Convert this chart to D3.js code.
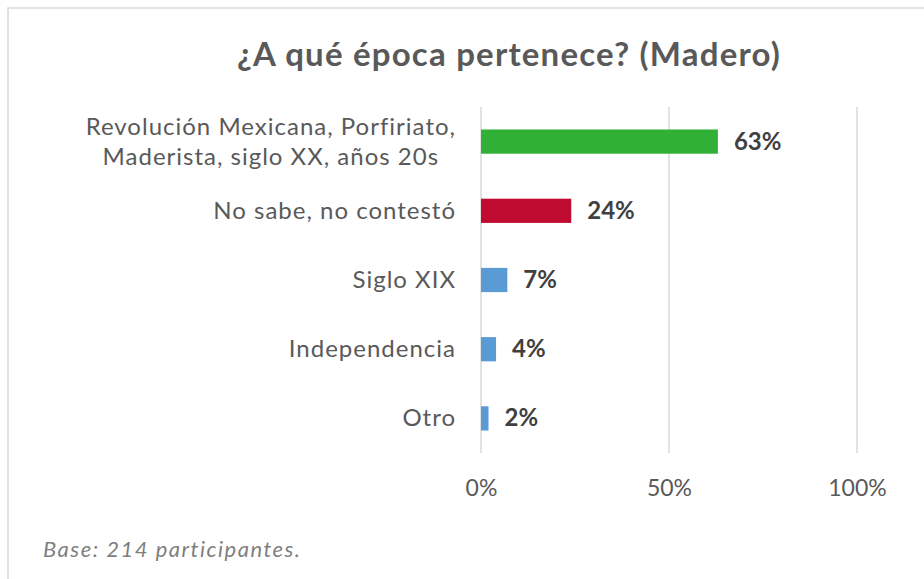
<!DOCTYPE html>
<html>
<head>
<meta charset="utf-8">
<script src="https://cdn.jsdelivr.net/npm/d3@7"></script>
<style>
  body { margin: 0; background: #fff; }
  svg { display: block; font-family: Lato, "Open Sans", sans-serif; }
</style>
</head>
<body>
<svg id="chart" width="924" height="579"></svg>
<script>
var categories = [
  ["Revolución Mexicana, Porfiriato,", "Maderista, siglo XX, años 20s"],
  ["No sabe, no contestó"],
  ["Siglo XIX"],
  ["Independencia"],
  ["Otro"]
];
var values = [63, 24, 7, 4, 2];
var barColors = ["#31b036", "#c00b31", "#5b9bd5", "#5b9bd5", "#5b9bd5"];
var tickValues = [0, 50, 100];
var title = "¿A qué época pertenece? (Madero)";
var footnote = "Base: 214 participantes.";

var svg = d3.select("#chart"),
  width = +svg.attr("width"),
  height = +svg.attr("height");

// chart frame
svg.append("rect")
  .attr("x", 8).attr("y", 8)
  .attr("width", width + 10).attr("height", height + 10)
  .style("fill", "none")
  .style("stroke", "#d9d9d9")
  .style("stroke-width", 1.5);

var x = d3.scaleLinear().domain([0, 100]).range([481, 857]);
var y = d3.scaleBand()
  .domain(d3.range(values.length))
  .range([107, 453])
  .paddingInner(0.65)
  .paddingOuter(0.325);

// gridlines
svg.append("g")
  .selectAll("line")
  .data(tickValues)
  .enter().append("line")
  .attr("x1", d => x(d)).attr("x2", d => x(d))
  .attr("y1", 107).attr("y2", 453)
  .style("stroke", "#d9d9d9")
  .style("stroke-width", 1.5);

// x axis labels
var xAxis = d3.axisBottom(x)
  .tickValues(tickValues)
  .tickSize(0)
  .tickPadding(0)
  .tickFormat(d => d + "%");

svg.append("g")
  .attr("transform", "translate(0,496)")
  .call(xAxis)
  .call(g => g.select(".domain").remove())
  .selectAll("text")
  .attr("y", 0).attr("dy", 0)
  .style("font-family", "Lato, sans-serif")
  .style("font-size", "23px")
  .style("fill", "#595959");

// bars
svg.append("g")
  .selectAll("rect")
  .data(values)
  .enter().append("rect")
  .attr("x", x(0))
  .attr("y", (d, i) => y(i))
  .attr("width", d => x(d) - x(0))
  .attr("height", y.bandwidth())
  .style("fill", (d, i) => barColors[i]);

// value labels
svg.append("g")
  .selectAll("text")
  .data(values)
  .enter().append("text")
  .attr("x", d => x(d) + 16)
  .attr("y", (d, i) => y(i) + y.bandwidth() / 2 + 8)
  .style("font-size", "24px")
  .style("font-weight", "bold")
  .style("fill", "#404040")
  .text(d => d + "%");

// category labels
var labels = svg.append("g")
  .selectAll("text")
  .data(categories)
  .enter().append("text")
  .style("font-size", "24px")
  .style("letter-spacing", "1px")
  .style("fill", "#595959")
  .style("text-anchor", "middle");

labels.each(function(lines, i) {
  var t = d3.select(this);
  var cy = y(i) + y.bandwidth() / 2;
  var lh = 30;
  lines.forEach(function(line, j) {
    t.append("tspan")
      .attr("y", cy + 8 + (j - (lines.length - 1) / 2) * lh)
      .text(line);
  });
  // center lines on the widest one, right edge at 455
  var w = d3.max(t.selectAll("tspan").nodes(), n => n.getComputedTextLength());
  t.selectAll("tspan").attr("x", 456 - w / 2);
});

// title
svg.append("text")
  .attr("x", 509)
  .attr("y", 66)
  .style("text-anchor", "middle")
  .style("font-size", "33px")
  .style("letter-spacing", "1.2px")
  .style("font-weight", "bold")
  .style("fill", "#595959")
  .text(title);

// footnote
svg.append("text")
  .attr("x", 43)
  .attr("y", 557)
  .style("font-size", "22px")
  .style("letter-spacing", "1.5px")
  .style("font-style", "italic")
  .style("fill", "#7f7f7f")
  .text(footnote);
</script>
</body>
</html>
